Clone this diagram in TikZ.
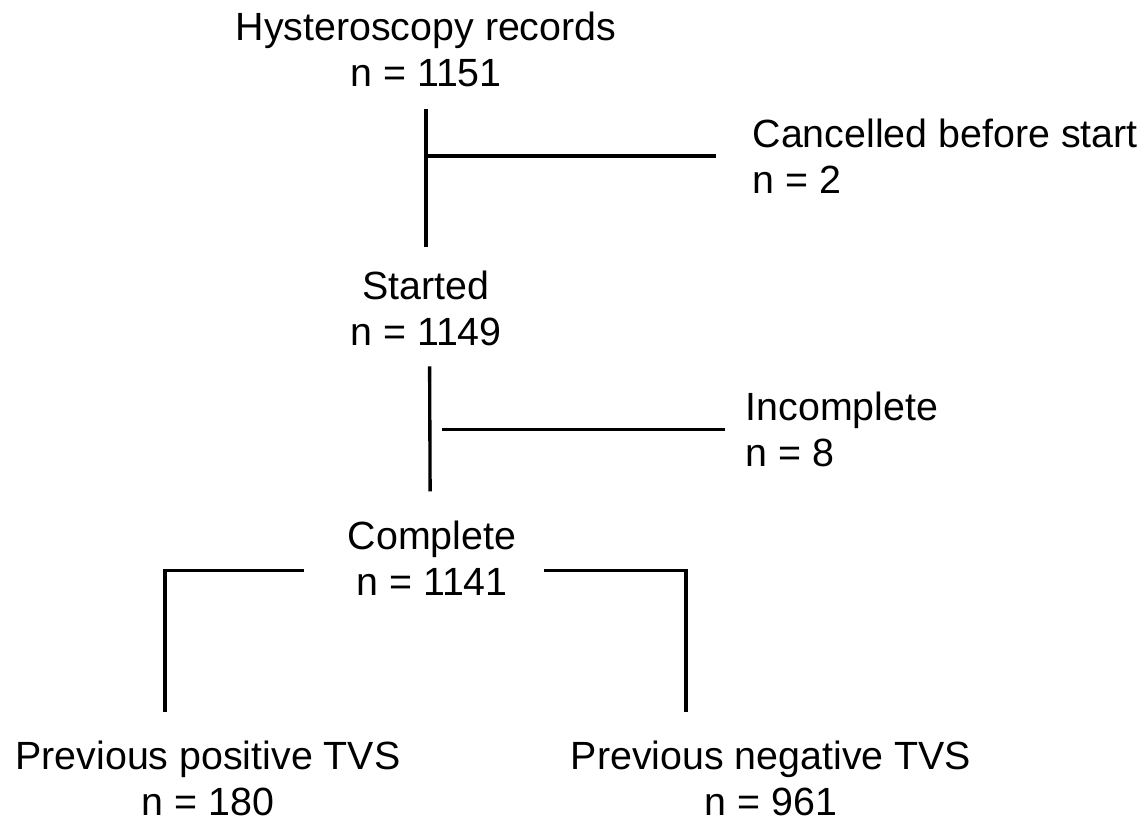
\documentclass[tikz,border=0pt]{standalone}
\usepackage{fontspec}
\setmainfont{Liberation Sans}
\usepackage{tikz}

\begin{document}
\begin{tikzpicture}[x=0.02cm, y=-0.02cm, line width=1.9pt,
    box/.style={align=center, inner sep=0pt, anchor=base,
        font=\fontsize{22.4}{25.8}\selectfont},
    side/.style={box, align=left, anchor=base west}]
    \useasboundingbox (0, 0) rectangle (1148, 823);

    % Stages
    \node at (426, 86) [box] (records) {Hysteroscopy records\\n = 1151};
    \node at (426, 345) [box] (started) {Started\\n = 1149};
    \node at (432, 595) [box] (complete) {Complete\\n = 1141};
    \node at (208, 815) [box] (positive) {Previous positive TVS\\n = 180};
    \node at (771, 815) [box] (negative) {Previous negative TVS\\n = 961};

    % Exclusions
    \node at (751, 193) [side] (cancelled) {Cancelled before start\\n = 2};
    \node at (744, 466) [side] (incomplete) {Incomplete\\n = 8};

    % Drop points of the split
    \coordinate (ldrop) at (165, 712);
    \coordinate (rdrop) at (686, 712);

    % Main line
    \draw[shorten <=12pt, shorten >=13pt] (records) -- (started);
    \draw[shorten <=11pt, shorten >=16pt] ([xshift=2pt]started.south) -- ([xshift=-1pt]complete.north);

    % Side lines
    \draw[shorten >=20pt] (records.south |- cancelled.west) -- (cancelled.west);
    \draw[shorten <=7pt, shorten >=11pt] ([xshift=2pt]started.south |- incomplete.west) -- (incomplete.west);

    % Split
    \draw ([xshift=-24pt, yshift=-7pt]complete.west) -| (ldrop);
    \draw ([xshift=15pt, yshift=-7pt]complete.east) -| (rdrop);
\end{tikzpicture}
\end{document}
